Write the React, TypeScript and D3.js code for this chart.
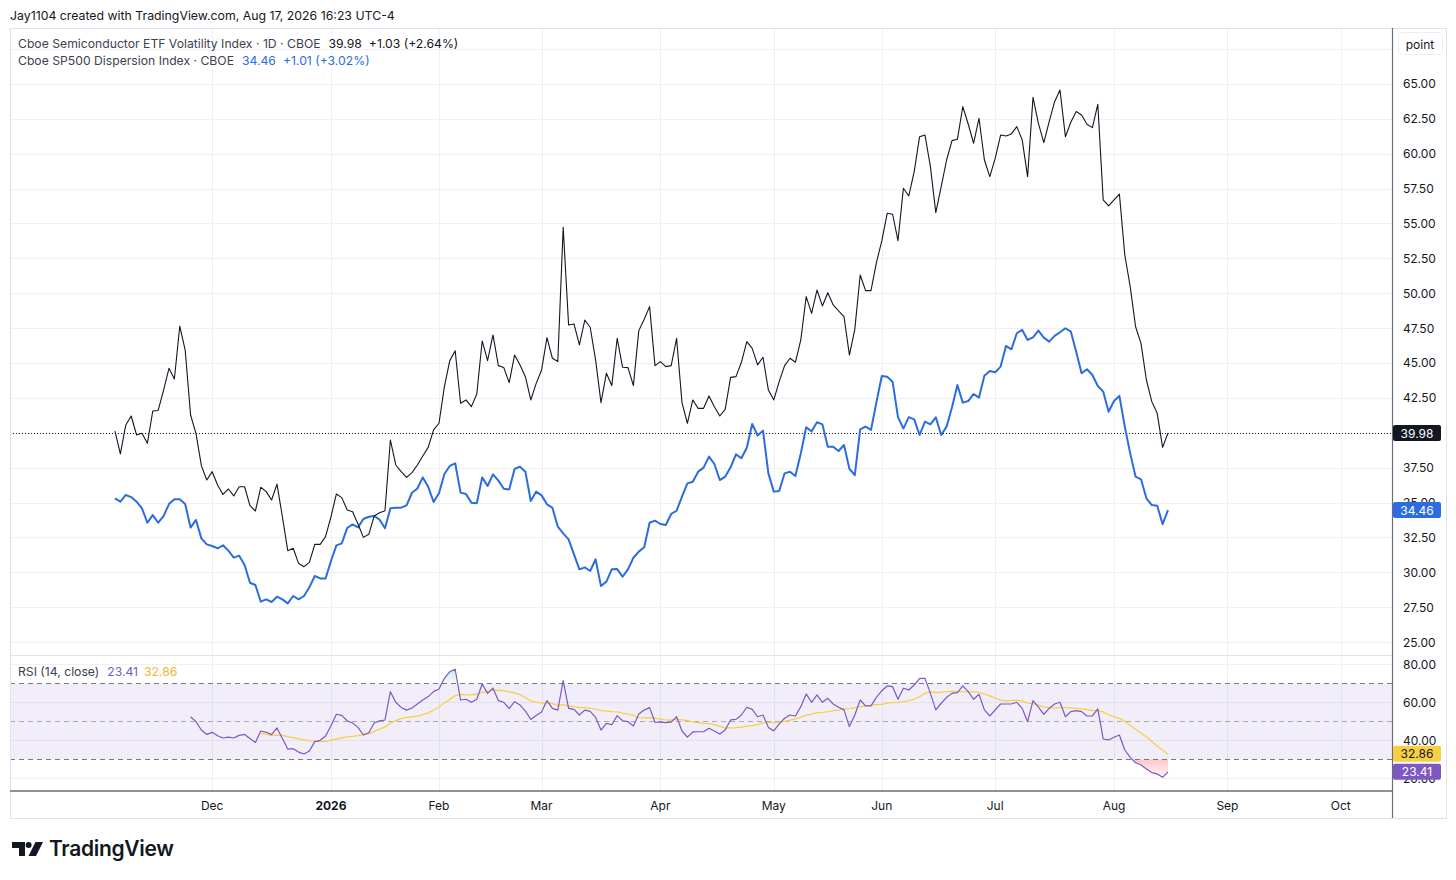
import { useEffect, useRef } from 'react';
import * as d3 from 'd3';

// Daily closes, one per trading day: bar 0 = Nov 4 2025, bar 195 = Aug 17 2026
const semiVolClose = [
    40.12, 38.48, 40.56, 41.2, 39.84, 39.96, 39.24, 41.56, 41.6, 43.06,
    44.62, 43.85, 47.65, 45.93, 41.27, 39.96, 37.64, 36.61, 37.21, 36.25,
    35.58, 35.97, 35.47, 36.13, 36.13, 34.77, 34.39, 36.09, 35.78, 35.18,
    36.32, 33.98, 31.55, 31.72, 30.64, 30.4, 30.71, 32.0, 32.0, 32.55,
    33.98, 35.61, 35.35, 34.46, 34.34, 33.46, 32.5, 32.72, 34.03, 34.27,
    34.41, 39.48, 37.69, 37.21, 36.8, 37.14, 37.69, 38.33, 38.95, 40.2,
    40.68, 43.3, 45.17, 45.88, 42.11, 42.35, 41.87, 42.78, 46.58, 45.17,
    47.01, 44.81, 44.67, 43.59, 45.57, 44.86, 44.02, 42.35, 43.54, 44.5,
    46.82, 45.34, 45.1, 54.73, 47.72, 47.8, 46.29, 48.08, 47.56, 45.22,
    42.16, 44.26, 43.38, 46.77, 44.69, 44.67, 43.38, 47.32, 48.13, 49.04,
    44.81, 45.1, 44.74, 44.81, 46.77, 42.16, 40.68, 42.35, 41.75, 41.75,
    42.64, 41.87, 41.2, 41.68, 43.97, 44.02, 45.05, 46.53, 46.05, 44.86,
    45.41, 43.06, 42.35, 43.66, 44.81, 45.34, 45.05, 46.65, 49.76, 48.56,
    50.23, 49.09, 50.04, 49.16, 48.73, 48.32, 45.57, 47.41, 51.31, 50.19,
    50.19, 52.19, 53.75, 55.73, 55.66, 53.77, 57.52, 56.97, 58.72, 61.22,
    61.34, 59.07, 55.78, 57.64, 59.55, 60.94, 61.03, 63.38, 62.13, 60.75,
    62.54, 59.55, 58.36, 59.67, 61.34, 61.27, 61.42, 61.94, 60.99, 58.36,
    64.04, 62.18, 60.79, 62.3, 63.73, 64.57, 61.22, 62.25, 63.02, 62.78,
    62.11, 61.87, 63.54, 56.69, 56.26, 56.69, 57.11, 52.74, 50.47, 47.6,
    46.41, 43.78, 42.23, 41.39, 38.95, 39.98
];

const dispersionClose = [
    35.3, 35.06, 35.54, 35.39, 35.06, 34.58, 33.55, 34.1, 33.55, 34.03,
    34.89, 35.23, 35.23, 34.89, 33.2, 33.75, 32.43, 32.0, 31.88, 31.72,
    31.93, 31.55, 31.05, 31.19, 30.52, 29.25, 29.09, 27.89, 28.06, 27.87,
    28.25, 28.06, 27.77, 28.3, 28.06, 28.3, 28.92, 29.73, 29.56, 29.56,
    30.81, 31.93, 32.07, 33.17, 33.43, 33.22, 33.82, 33.98, 34.03, 33.77,
    33.15, 34.58, 34.63, 34.63, 34.8, 35.7, 36.0, 36.8, 36.13, 35.04,
    35.66, 37.04, 37.62, 37.81, 35.71, 35.61, 34.99, 34.94, 36.8, 36.18,
    37.02, 36.57, 35.99, 35.94, 37.4, 37.57, 37.21, 35.11, 35.78, 35.51,
    34.87, 34.63, 33.27, 32.79, 32.36, 31.28, 30.21, 30.35, 30.09, 30.93,
    29.01, 29.33, 30.21, 30.23, 29.68, 30.21, 31.04, 31.48, 31.79, 33.55,
    33.7, 33.46, 33.39, 34.18, 34.41, 35.42, 36.37, 36.49, 37.21, 37.5,
    38.29, 37.76, 36.61, 36.85, 37.52, 38.45, 38.17, 38.93, 40.63, 39.81,
    40.15, 37.09, 35.78, 35.82, 37.09, 37.21, 36.9, 38.52, 40.39, 40.1,
    40.75, 40.6, 39.0, 39.0, 38.69, 39.12, 37.42, 36.96, 40.24, 40.44,
    40.2, 42.18, 44.07, 44.02, 43.66, 41.12, 40.3, 41.12, 40.96, 39.84,
    40.79, 40.6, 41.1, 39.84, 40.44, 41.82, 43.42, 42.16, 42.27, 42.78,
    42.52, 44.09, 44.43, 44.33, 44.74, 46.22, 45.98, 47.13, 47.37, 46.65,
    46.84, 47.32, 46.82, 46.53, 46.94, 47.2, 47.49, 47.25, 45.81, 44.26,
    44.55, 44.14, 43.35, 42.95, 41.51, 42.28, 42.64, 40.44, 38.52, 36.85,
    36.66, 35.3, 34.82, 34.77, 33.45, 34.46
];

const rsiStartBar = 14;
const rsiValues = [
    52.4, 49.8, 45.4, 43.1, 44.2, 42.4, 41.2, 41.7, 41.2, 42.6,
    43.1, 40.9, 38.9, 44.9, 44.2, 43.0, 46.5, 40.9, 35.4, 35.6,
    33.8, 32.8, 34.4, 39.3, 40.0, 42.3, 47.7, 53.7, 53.1, 50.3,
    49.1, 46.8, 42.8, 44.0, 49.1, 50.2, 50.7, 65.6, 60.0, 57.3,
    55.9, 57.0, 59.1, 61.2, 63.0, 65.6, 67.0, 72.6, 76.1, 77.4,
    61.2, 61.6, 60.0, 61.6, 69.6, 64.7, 67.4, 60.9, 60.0, 56.7,
    60.3, 58.6, 55.4, 51.0, 53.0, 54.9, 60.9, 56.8, 55.9, 71.4,
    56.8, 56.3, 53.3, 55.9, 55.2, 52.1, 45.4, 48.9, 48.2, 53.0,
    50.3, 49.8, 47.5, 53.8, 55.9, 57.2, 49.5, 49.6, 49.3, 49.6,
    52.4, 44.9, 41.7, 44.4, 44.5, 44.5, 46.3, 44.9, 43.3, 45.4,
    50.7, 51.0, 53.3, 57.4, 56.3, 52.4, 53.3, 46.8, 44.9, 48.6,
    51.6, 53.3, 52.8, 57.7, 64.4, 60.0, 63.9, 60.0, 62.1, 59.1,
    57.4, 56.0, 47.2, 53.3, 61.2, 58.1, 58.1, 62.6, 66.1, 68.6,
    68.2, 61.6, 67.4, 66.5, 69.1, 72.6, 72.6, 64.7, 56.0, 59.5,
    62.6, 64.7, 65.1, 68.6, 65.6, 61.6, 64.2, 56.0, 52.8, 56.0,
    59.1, 59.1, 59.1, 60.0, 56.8, 49.8, 60.9, 57.4, 53.7, 56.8,
    59.1, 60.0, 52.4, 55.1, 55.6, 55.1, 52.8, 52.8, 56.5, 40.7,
    40.2, 41.6, 42.8, 34.9, 31.0, 28.2, 27.0, 24.9, 23.0, 22.3,
    20.5, 23.41
];
const rsiMaLength = 14;

const monthLabels = ["Dec", "2026", "Feb", "Mar", "Apr", "May", "Jun", "Jul", "Aug", "Sep", "Oct"];
const monthBars = [18, 40, 60, 79, 101, 122, 142, 163, 185, 206, 227];
const priceTicks = [25, 27.5, 30, 32.5, 35, 37.5, 40, 42.5, 45, 47.5, 50, 52.5, 55, 57.5, 60, 62.5, 65];
const priceGrid = [...priceTicks, 67.5];
const rsiTicks = [20, 40, 60, 80];
const rsiLevels = [30, 50, 70];

const lastSemi = 39.98;
const lastDisp = 34.46;
const lastRsi = 23.41;
const lastRsiMa = 32.86;

const FONT = "Inter, 'Noto Sans', 'DejaVu Sans', sans-serif";
const BLUE = "#2b6ddf";
const PURPLE = "#7e57c2";
const YELLOW = "#f7cf45";

export default function App() {
    const svgRef = useRef<SVGSVGElement>(null);

    useEffect(() => {
        if (!svgRef.current) return;
        const svg = d3.select(svgRef.current);
        svg.selectAll("*").remove();

        const left = 10;
        const right = 1392;
        const outerRight = 1446;
        const paneTop = 28;
        const paneBottom = 655;
        const rsiBottom = 791;
        const frameBottom = 818;

        const x = d3.scaleLinear().domain([-19.44, 236.48]).range([left, right]);
        const y = d3.scaleLinear().domain([24.07, 69.01]).range([paneBottom, paneTop]);
        const yr = d3.scaleLinear().domain([13.32, 84.89]).range([rsiBottom, paneBottom]);

        const rsiPts = rsiValues.map((v, i) => ({ bar: i + rsiStartBar, v }));
        const maPts = rsiValues
            .map((_, i) => i < rsiMaLength - 1 ? null : {
                bar: i + rsiStartBar,
                v: d3.mean(rsiValues.slice(i - rsiMaLength + 1, i + 1)) as number
            })
            .filter(d => d !== null) as { bar: number; v: number }[];

        svg.append("rect").attr("width", 1456).attr("height", 880).attr("fill", "#ffffff");

        const defs = svg.append("defs");
        defs.append("clipPath").attr("id", "mainClip")
            .append("rect").attr("x", left).attr("y", paneTop).attr("width", right - left).attr("height", paneBottom - paneTop);
        defs.append("clipPath").attr("id", "rsiClip")
            .append("rect").attr("x", left).attr("y", paneBottom).attr("width", right - left).attr("height", rsiBottom - paneBottom);
        defs.append("clipPath").attr("id", "below30")
            .append("rect").attr("x", left).attr("y", yr(30)).attr("width", right - left).attr("height", rsiBottom - yr(30));
        defs.append("clipPath").attr("id", "above70")
            .append("rect").attr("x", left).attr("y", paneBottom).attr("width", right - left).attr("height", yr(70) - paneBottom);

        const pink = defs.append("linearGradient").attr("id", "pinkFill")
            .attr("gradientUnits", "userSpaceOnUse").attr("x1", 0).attr("x2", 0).attr("y1", yr(30)).attr("y2", yr(20));
        pink.append("stop").attr("offset", "0%").attr("stop-color", "#f23645").attr("stop-opacity", 0.28);
        pink.append("stop").attr("offset", "100%").attr("stop-color", "#f23645").attr("stop-opacity", 0.04);
        const green = defs.append("linearGradient").attr("id", "greenFill")
            .attr("gradientUnits", "userSpaceOnUse").attr("x1", 0).attr("x2", 0).attr("y1", yr(70)).attr("y2", yr(80));
        green.append("stop").attr("offset", "0%").attr("stop-color", "#089981").attr("stop-opacity", 0.04);
        green.append("stop").attr("offset", "100%").attr("stop-color", "#089981").attr("stop-opacity", 0.28);

        // Header
        svg.append("text")
            .attr("x", 10).attr("y", 20)
            .style("font-family", FONT).style("font-size", "12.3px").attr("fill", "#131722")
            .text("Jay1104 created with TradingView.com, Aug 17, 2026 16:23 UTC-4");

        // Gridlines
        const grid = svg.append("g").attr("stroke", "#eef0f4").attr("stroke-width", 1);
        grid.selectAll("line.h")
            .data(priceGrid)
            .join("line")
            .attr("x1", left).attr("x2", right)
            .attr("y1", d => Math.round(y(d)) + 0.5).attr("y2", d => Math.round(y(d)) + 0.5);
        grid.selectAll("line.r")
            .data(rsiTicks)
            .join("line")
            .attr("x1", left).attr("x2", right)
            .attr("y1", d => Math.round(yr(d)) + 0.5).attr("y2", d => Math.round(yr(d)) + 0.5);
        grid.selectAll("line.v")
            .data(monthBars)
            .join("line")
            .attr("x1", d => Math.round(x(d)) + 0.5).attr("x2", d => Math.round(x(d)) + 0.5)
            .attr("y1", paneTop).attr("y2", rsiBottom);

        // Pane separator
        svg.append("line")
            .attr("x1", left).attr("x2", right)
            .attr("y1", paneBottom + 0.5).attr("y2", paneBottom + 0.5)
            .attr("stroke", "#e0e3eb");

        // RSI background band and levels
        svg.append("rect")
            .attr("x", left).attr("width", right - left)
            .attr("y", yr(70)).attr("height", yr(30) - yr(70))
            .attr("fill", PURPLE).attr("fill-opacity", 0.1);
        svg.append("g")
            .selectAll("line")
            .data(rsiLevels)
            .join("line")
            .attr("x1", left).attr("x2", right)
            .attr("y1", d => Math.round(yr(d)) + 0.5).attr("y2", d => Math.round(yr(d)) + 0.5)
            .attr("stroke", "#787b86")
            .attr("stroke-opacity", d => d === 50 ? 0.6 : 1)
            .attr("stroke-dasharray", "5,4");

        // Main pane series
        const main = svg.append("g").attr("clip-path", "url(#mainClip)");
        const line = d3.line<number>().x((_, i) => x(i)).y(d => y(d));

        main.append("line")
            .attr("x1", left).attr("x2", right)
            .attr("y1", Math.round(y(lastSemi)) + 0.5).attr("y2", Math.round(y(lastSemi)) + 0.5)
            .attr("stroke", "#131722").attr("stroke-dasharray", "1,2");

        main.append("path")
            .datum(dispersionClose)
            .attr("fill", "none")
            .attr("stroke", BLUE)
            .attr("stroke-width", 2)
            .attr("stroke-linejoin", "round")
            .attr("d", line);

        main.append("path")
            .datum(semiVolClose)
            .attr("fill", "none")
            .attr("stroke", "#131722")
            .attr("stroke-width", 1.1)
            .attr("stroke-linejoin", "round")
            .attr("d", line);

        // RSI pane
        const rsiG = svg.append("g").attr("clip-path", "url(#rsiClip)");
        const rLine = d3.line<{ bar: number; v: number }>().x(d => x(d.bar)).y(d => yr(d.v));

        rsiG.append("g").attr("clip-path", "url(#below30)")
            .append("path")
            .datum(rsiPts)
            .attr("fill", "url(#pinkFill)")
            .attr("d", d3.area<{ bar: number; v: number }>().x(d => x(d.bar)).y0(yr(30)).y1(d => yr(d.v)));
        rsiG.append("g").attr("clip-path", "url(#above70)")
            .append("path")
            .datum(rsiPts)
            .attr("fill", "url(#greenFill)")
            .attr("d", d3.area<{ bar: number; v: number }>().x(d => x(d.bar)).y0(yr(70)).y1(d => yr(d.v)));

        rsiG.append("path")
            .datum(maPts)
            .attr("fill", "none")
            .attr("stroke", YELLOW)
            .attr("stroke-width", 1.3)
            .attr("d", rLine);

        rsiG.append("path")
            .datum(rsiPts)
            .attr("fill", "none")
            .attr("stroke", PURPLE)
            .attr("stroke-width", 1.2)
            .attr("stroke-linejoin", "round")
            .attr("d", rLine);

        // Frame
        svg.append("rect")
            .attr("x", left + 0.5).attr("y", paneTop + 0.5)
            .attr("width", outerRight - left).attr("height", frameBottom - paneTop)
            .attr("fill", "none").attr("stroke", "#e0e3eb");
        svg.append("line")
            .attr("x1", left).attr("x2", right)
            .attr("y1", rsiBottom).attr("y2", rsiBottom)
            .attr("stroke", "#6a6d78").attr("stroke-width", 1.5);
        svg.append("line")
            .attr("x1", right + 0.5).attr("x2", right + 0.5)
            .attr("y1", paneTop).attr("y2", frameBottom)
            .attr("stroke", "#6a6d78").attr("stroke-width", 1.2);

        // Price axis labels (those half hidden by a last-value tag are clipped to their visible part)
        const axis = svg.append("g")
            .style("font-family", FONT).style("font-size", "12px")
            .attr("fill", "#131722");
        axis.selectAll("text.p")
            .data(priceTicks.filter(d => Math.abs(y(d) - y(lastSemi)) > 10))
            .join("text")
            .attr("x", 1403).attr("y", d => y(d))
            .attr("dominant-baseline", "central")
            .text(d => d.toFixed(2));
        axis.selectAll("text.r")
            .data(rsiTicks)
            .join("text")
            .attr("x", 1403).attr("y", d => yr(d))
            .attr("dominant-baseline", "central")
            .text(d => d.toFixed(2));

        // "point" scale box
        svg.append("rect")
            .attr("x", 1398.5).attr("y", 32.5).attr("width", 44).attr("height", 22).attr("rx", 4)
            .attr("fill", "#ffffff").attr("stroke", "#eceef2");
        svg.append("text")
            .attr("x", 1420).attr("y", 44)
            .attr("text-anchor", "middle").attr("dominant-baseline", "central")
            .style("font-family", FONT).style("font-size", "12px").attr("fill", "#131722")
            .text("point");

        // Last-value tags
        const tags = [
            { v: lastSemi, scale: y, bg: "#131722", fg: "#ffffff" },
            { v: lastDisp, scale: y, bg: BLUE, fg: "#ffffff" },
            { v: lastRsiMa, scale: yr, bg: YELLOW, fg: "#131722" },
            { v: lastRsi, scale: yr, bg: PURPLE, fg: "#ffffff" }
        ];
        const tagG = svg.append("g");
        tags.forEach(t => {
            const cy = t.scale(t.v);
            tagG.append("rect")
                .attr("x", right + 1).attr("y", cy - 8).attr("width", 48).attr("height", 16).attr("rx", 2)
                .attr("fill", t.bg);
            tagG.append("text")
                .attr("x", right + 25).attr("y", cy)
                .attr("text-anchor", "middle").attr("dominant-baseline", "central")
                .style("font-family", FONT).style("font-size", "12px")
                .attr("fill", t.fg)
                .text(t.v.toFixed(2));
        });

        // Time axis
        svg.append("g")
            .style("font-family", FONT).style("font-size", "12px")
            .selectAll("text")
            .data(monthLabels)
            .join("text")
            .attr("x", (_, i) => x(monthBars[i]))
            .attr("y", 805)
            .attr("text-anchor", "middle").attr("dominant-baseline", "central")
            .attr("fill", "#131722")
            .style("font-weight", d => d === "2026" ? "700" : "400")
            .text(d => d);

        // Legends
        const legend = svg.append("g").style("font-family", FONT).style("font-size", "12.2px");
        const l1 = legend.append("text").attr("x", 18).attr("y", 48);
        l1.append("tspan").attr("fill", "#3d4150").text("Cboe Semiconductor ETF Volatility Index · 1D · CBOE");
        l1.append("tspan").attr("dx", 8).attr("fill", "#131722").text("39.98");
        l1.append("tspan").attr("dx", 7).attr("fill", "#131722").text("+1.03 (+2.64%)");

        const l2 = legend.append("text").attr("x", 18).attr("y", 65);
        l2.append("tspan").attr("fill", "#3d4150").text("Cboe SP500 Dispersion Index · CBOE");
        l2.append("tspan").attr("dx", 8).attr("fill", BLUE).text("34.46");
        l2.append("tspan").attr("dx", 7).attr("fill", BLUE).text("+1.01 (+3.02%)");

        const l3 = legend.append("text").attr("x", 18).attr("y", 676);
        l3.append("tspan").attr("fill", "#3d4150").text("RSI (14, close)");
        l3.append("tspan").attr("dx", 8).attr("fill", PURPLE).text("23.41");
        l3.append("tspan").attr("dx", 6).attr("fill", "#e8b931").text("32.86");

        // TradingView logo
        const logo = svg.append("g").attr("fill", "#131722");
        logo.append("path").attr("d", "M12 842 H25 V856 H19 V848 H12 Z");
        logo.append("circle").attr("cx", 28.6).attr("cy", 845).attr("r", 3);
        logo.append("path").attr("d", "M35.5 842 H43 L36 856 H28.5 Z");
        logo.append("text")
            .attr("x", 49).attr("y", 856)
            .style("font-family", FONT).style("font-size", "21px").style("font-weight", "600")
            .style("letter-spacing", "-0.3px")
            .text("TradingView");
    }, []);

    return (
        <div style={{ position: "absolute", left: 0, top: 0, background: "#ffffff" }}>
            <svg ref={svgRef} width={1456} height={880} style={{ display: "block" }}></svg>
        </div>
    );
}
